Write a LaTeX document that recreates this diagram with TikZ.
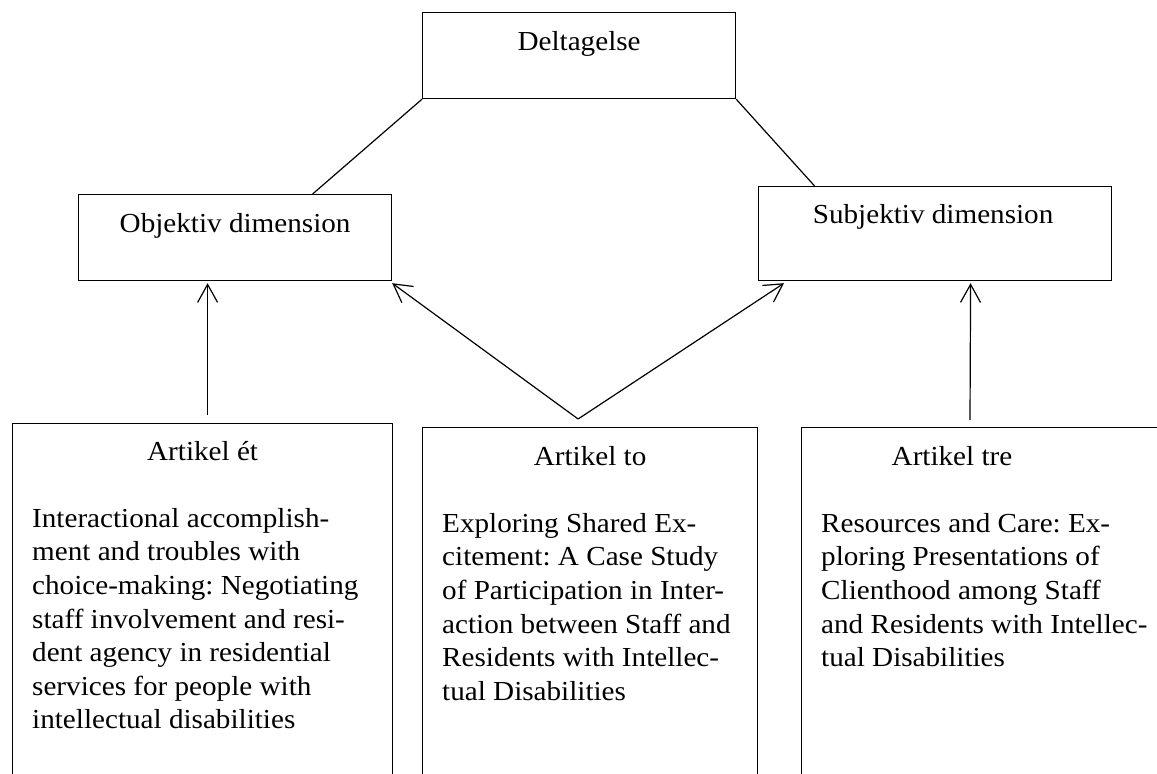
\documentclass[tikz,border=0pt]{standalone}
\usepackage{fontspec}
\setmainfont{Liberation Serif}[FakeStretch=1.06]
\usetikzlibrary{arrows.meta}
\usetikzlibrary{positioning}
\frenchspacing

\tikzset{
  box/.style={draw, line width=1.2pt, inner sep=0pt, anchor=north west},
  head/.style={anchor=base, inner sep=0pt},
  body/.style={anchor=north west, align=left, inner sep=0pt},
  link/.style={line width=1.2pt},
  arr/.style={line width=1.2pt, -{Straight Barb[length=18pt,width=20pt,line width=1.2pt]}},
}

\begin{document}
\begin{tikzpicture}[x=1pt, y=-1pt, font=\fontsize{27.5}{33.6}\selectfont]
    \useasboundingbox (0,0) rectangle (1157,774);

    % top
    \node[box, minimum width=313pt, minimum height=86pt] (delt) at (422,12) {};
    \node[head] (deltT) at ([yshift=-38pt]delt.north) {Deltagelse};

    % dimensions
    \node[box, minimum width=313pt, minimum height=86pt] (obj) at (78,194) {};
    \node[head] (objT) at ([yshift=-38pt]obj.north) {Objektiv dimension};
    \node[box, minimum width=353pt, minimum height=94pt] (subj) at (758,186) {};
    \node[head] (subjT) at ([xshift=-2pt,yshift=-37pt]subj.north) {Subjektiv dimension};

    \draw[link] (delt.south west) -- ([xshift=77.5pt]obj.north);
    \draw[link] (delt.south east) -- ([xshift=-120.5pt]subj.north);

    % articles
    \node[box, minimum width=380pt, minimum height=400pt] (art1) at (12,423) {};
    \node[head] (art1T) at ([yshift=-37pt]art1.north) {Artikel ét};
    \node[body] (art1B) at ([xshift=20pt,yshift=-80.5pt]art1.north west) {\strut Interactional accomplish-\\ment and troubles with\\choice-making: Negotiating\\staff involvement and resi-\\dent agency in residential\\services for people with\\intellectual disabilities};

    \node[box, minimum width=335pt, minimum height=400pt] (art2) at (422,427) {};
    \node[head] (art2T) at ([yshift=-38pt]art2.north) {Artikel to};
    \node[body] (art2B) at ([xshift=20pt,yshift=-81.5pt]art2.north west) {\strut Exploring Shared Ex-\\citement: A Case Study\\of Participation in Inter-\\action between Staff and\\Residents with Intellec-\\tual Disabilities};

    \node[box, minimum width=370pt, minimum height=400pt] (art3) at (801,427) {};
    \node[head] (art3T) at ([xshift=151pt,yshift=-38pt]art3.north west) {Artikel tre};
    \node[body] (art3B) at ([xshift=20pt,yshift=-81.5pt]art3.north west) {\strut Resources and Care: Ex-\\ploring Presentations of\\Clienthood among Staff\\and Residents with Intellec-\\tual Disabilities};

    % arrows
    \coordinate (apex) at ([xshift=-12pt,yshift=8pt]art2.north);
    \draw[arr] ([xshift=5pt,yshift=8pt]art1.north) -- ([xshift=-27.5pt,yshift=-2pt]obj.south);
    \draw[arr] (apex) -- ([yshift=-2pt]obj.south east);
    \draw[arr] (apex) -- ([xshift=26pt,yshift=-2pt]subj.south west);
    \draw[arr] ([xshift=169pt,yshift=7pt]art3.north west) -- ([xshift=35.5pt,yshift=-2pt]subj.south);
\end{tikzpicture}
\end{document}
